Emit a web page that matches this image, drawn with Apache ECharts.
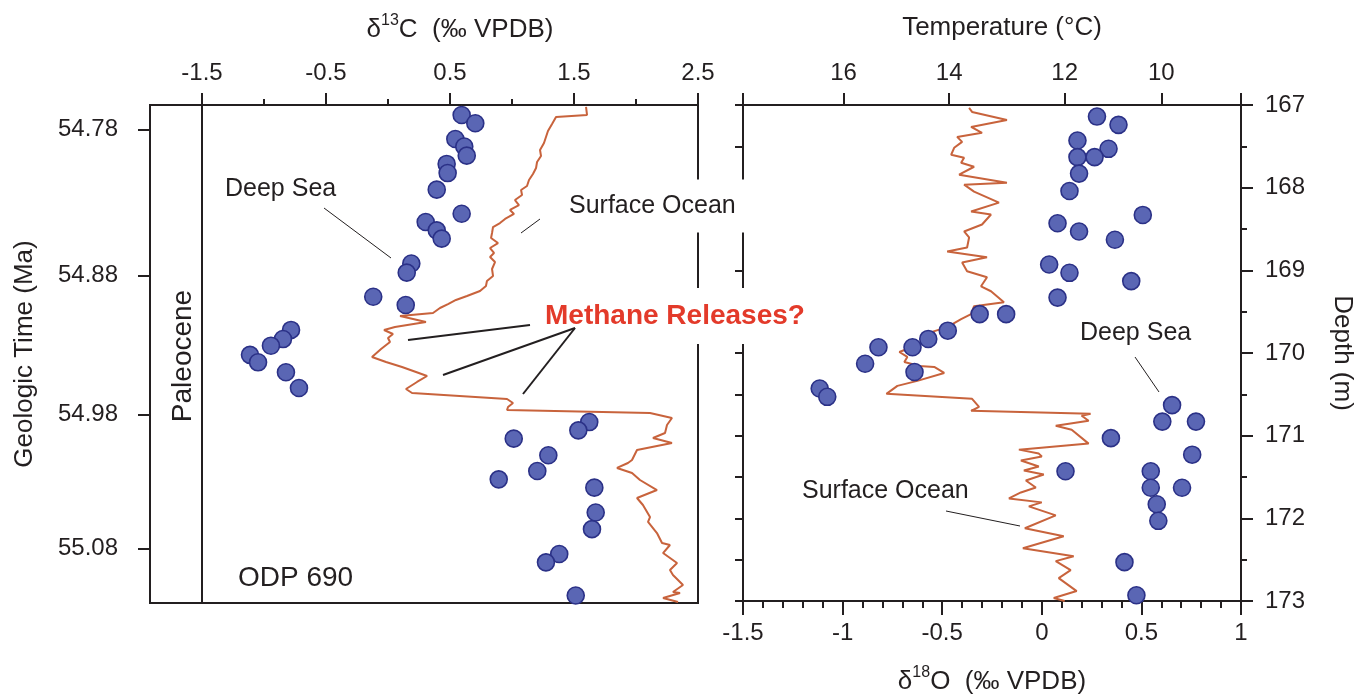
<!DOCTYPE html>
<html><head><meta charset="utf-8">
<script src="https://cdn.jsdelivr.net/npm/echarts@6/dist/echarts.min.js"></script>
<style>html,body{margin:0;padding:0;background:#fff}#c{width:1362px;height:700px}</style>
</head><body><div id="c"></div>
<script>
// ---- tick labels ----
const carbonTicks = [-1.5, -0.5, 0.5, 1.5, 2.5];
const carbonMinorTicks = [-1, 0, 1, 2];
const tempLabels = ['16', '14', '12', '10'];
const tempTickO18 = [-0.995, -0.465, 0.115, 0.6];   // where each temperature falls on the δ18O scale
const tempTickEnds = [-1.5, 1];
const ageLabels = ['54.78', '54.88', '54.98', '55.08'];
const ageTickDepth = [167.296, 169.055, 170.729, 172.347]; // age ticks placed on the depth scale
const depthMin = 167, depthMax = 173;

// ---- series values: [value, depth (m)] ----
const deepC13 = [[0.594,167.12],[0.704,167.22],[0.543,167.41],[0.615,167.50],[0.635,167.61],[0.473,167.71],[0.481,167.82],[0.393,168.02],[0.594,168.31],[0.304,168.41],[0.393,168.51],[0.433,168.61],[0.188,168.91],[0.151,169.02],[-0.119,169.31],[0.143,169.41],[-0.782,169.71],[-0.847,169.82],[-0.944,169.90],[-1.113,170.01],[-1.048,170.10],[-0.823,170.22],[-0.718,170.41],[1.623,170.82],[1.535,170.92],[1.014,171.02],[1.293,171.22],[1.204,171.41],[0.893,171.51],[1.664,171.61],[1.675,171.91],[1.645,172.11],[1.381,172.41],[1.274,172.51],[1.514,172.91]];

const surfC13 = [[1.597,167.024],[1.605,167.120],[1.355,167.145],[1.323,167.229],[1.290,167.313],[1.274,167.386],[1.258,167.458],[1.226,167.542],[1.234,167.614],[1.202,167.687],[1.194,167.759],[1.169,167.831],[1.137,167.904],[1.121,167.976],[1.073,168.024],[1.081,168.084],[1.024,168.145],[1.056,168.205],[0.984,168.265],[1.016,168.313],[0.944,168.373],[0.903,168.422],[0.847,168.470],[0.839,168.542],[0.831,168.602],[0.887,168.663],[0.823,168.723],[0.855,168.783],[0.823,168.831],[0.863,168.892],[0.839,168.976],[0.847,169.060],[0.798,169.120],[0.790,169.181],[0.742,169.241],[0.637,169.301],[0.548,169.349],[0.484,169.398],[0.419,169.446],[0.363,169.506],[0.097,169.542],[0.202,169.578],[0.306,169.614],[0.056,169.675],[-0.032,169.711],[0.040,169.759],[0.000,169.807],[0.016,169.855],[-0.056,169.940],[-0.129,170.036],[-0.016,170.096],[0.113,170.157],[0.226,170.217],[0.315,170.265],[0.234,170.337],[0.145,170.422],[0.194,170.470],[0.960,170.542],[1.008,170.590],[0.968,170.639],[0.960,170.675],[2.113,170.711],[2.290,170.771],[2.250,170.855],[2.234,170.952],[2.137,171.012],[2.290,171.072],[2.008,171.157],[1.968,171.277],[1.935,171.313],[1.847,171.373],[1.968,171.434],[2.032,171.518],[2.169,171.639],[2.008,171.735],[2.056,171.819],[2.113,171.964],[2.097,172.024],[2.169,172.157],[2.210,172.277],[2.274,172.301],[2.218,172.398],[2.331,172.518],[2.274,172.602],[2.298,172.663],[2.379,172.783],[2.298,172.867],[2.355,172.880],[2.218,172.940],[2.339,172.988]];

const deepO18 = [[0.277,167.14],[0.385,167.24],[0.179,167.43],[0.335,167.53],[0.179,167.63],[0.265,167.63],[0.187,167.83],[0.139,168.04],[0.507,168.33],[0.079,168.43],[0.187,168.53],[0.367,168.63],[0.037,168.93],[0.139,169.03],[0.449,169.13],[0.079,169.33],[-0.179,169.53],[-0.312,169.53],[-0.472,169.73],[-0.570,169.83],[-0.649,169.93],[-0.820,169.93],[-0.887,170.13],[-0.639,170.23],[-1.115,170.43],[-1.077,170.53],[0.654,170.63],[0.605,170.83],[0.774,170.83],[0.347,171.03],[0.755,171.23],[0.119,171.43],[0.547,171.43],[0.547,171.63],[0.704,171.63],[0.577,171.83],[0.585,172.03],[0.415,172.53],[0.475,172.93]];

const surfO18 = [[-0.365,167.036],[-0.350,167.084],[-0.175,167.181],[-0.355,167.265],[-0.300,167.337],[-0.425,167.386],[-0.400,167.446],[-0.440,167.518],[-0.455,167.602],[-0.390,167.639],[-0.405,167.699],[-0.340,167.747],[-0.415,167.843],[-0.175,167.940],[-0.390,167.964],[-0.340,168.048],[-0.215,168.181],[-0.355,168.289],[-0.255,168.325],[-0.300,168.446],[-0.390,168.530],[-0.365,168.602],[-0.375,168.723],[-0.475,168.771],[-0.275,168.843],[-0.400,168.904],[-0.375,169.012],[-0.275,169.084],[-0.305,169.193],[-0.255,169.253],[-0.190,169.386],[-0.340,169.434],[-0.355,169.530],[-0.405,169.590],[-0.475,169.687],[-0.555,169.747],[-0.615,169.892],[-0.715,169.988],[-0.675,170.048],[-0.690,170.108],[-0.615,170.157],[-0.540,170.169],[-0.490,170.241],[-0.625,170.337],[-0.725,170.398],[-0.780,170.494],[-0.350,170.554],[-0.315,170.651],[-0.355,170.699],[0.245,170.735],[0.200,170.759],[0.235,170.819],[0.070,170.880],[0.150,170.928],[0.235,171.096],[-0.115,171.169],[-0.015,171.217],[0.000,171.253],[-0.105,171.301],[-0.015,171.373],[-0.090,171.422],[0.010,171.470],[-0.080,171.542],[-0.030,171.627],[-0.105,171.687],[-0.165,171.759],[0.000,171.807],[-0.065,171.855],[0.070,171.964],[-0.085,172.120],[0.110,172.217],[-0.095,172.361],[0.160,172.458],[0.070,172.518],[0.145,172.627],[0.085,172.723],[0.175,172.880],[0.060,172.964],[0.115,173.0]];

// ---- styles ----
const FONT = '"Liberation Sans", Arial, Helvetica, sans-serif';
const INK = '#231f20';
const ORANGE = '#c8633c';
const DOT = '#5a66b4';
const DOT_EDGE = '#2b3187';
const RED = '#e33a2a';
const lineAx = {show: true, onZero: false, lineStyle: {color: INK, width: 2}};
const noLine = {show: false, onZero: false};
const tickStyle = {color: INK, width: 2};
const lab = {color: INK, fontSize: 24, fontFamily: FONT};
const nameRich = {
  a: {fontSize: 26, fontFamily: FONT, color: INK, lineHeight: 30, verticalAlign: 'bottom'},
  s: {fontSize: 16, fontFamily: FONT, color: INK, lineHeight: 18, verticalAlign: 'top'}
};

const chart = echarts.init(document.getElementById('c'), null, {renderer: 'canvas'});
const option = {
  animation: false,
  backgroundColor: '#fff',
  grid: [
    {left: 202, top: 105, width: 496, height: 498, show: true, borderColor: INK, borderWidth: 2},
    {left: 743, top: 105, width: 498, height: 498, show: true, borderColor: INK, borderWidth: 2},
    {left: 150, top: 105, width: 52, height: 498, show: true, borderColor: INK, borderWidth: 2}
  ],
  xAxis: [
    {gridIndex: 0, type: 'value', position: 'top', min: -1.5, max: 2.5,
     axisLine: lineAx, splitLine: {show: false},
     axisTick: {show: true, customValues: carbonTicks, length: 12, lineStyle: tickStyle},
     axisLabel: Object.assign({customValues: carbonTicks, margin: 20}, lab),
     name: '{a|δ}{s|13}{a|C  (‰ VPDB)}', nameLocation: 'middle', nameGap: 62,
     nameTextStyle: {rich: nameRich, padding: [0, 0, 0, 20]}},
    {gridIndex: 0, type: 'value', position: 'top', min: -1.5, max: 2.5,
     axisLine: noLine, splitLine: {show: false}, axisLabel: {show: false},
     axisTick: {show: true, customValues: carbonMinorTicks, length: 6, lineStyle: tickStyle}},
    {gridIndex: 1, type: 'value', position: 'bottom', min: -1.5, max: 1, interval: 0.5,
     axisLine: lineAx, splitLine: {show: false},
     axisTick: {show: true, length: 14, lineStyle: tickStyle},
     minorTick: {show: true, splitNumber: 5, length: 7, lineStyle: tickStyle},
     axisLabel: Object.assign({margin: 20}, lab),
     name: '{a|δ}{s|18}{a|O  (‰ VPDB)}', nameLocation: 'middle', nameGap: 64,
     nameTextStyle: {rich: nameRich}},
    {gridIndex: 1, type: 'value', position: 'top', min: -1.5, max: 1,
     axisLine: lineAx, splitLine: {show: false},
     axisTick: {show: true, customValues: tempTickEnds.concat(tempTickO18), length: 12, lineStyle: tickStyle},
     axisLabel: Object.assign({customValues: tempTickO18, margin: 20,
       formatter: function (v) { for (let i = 0; i < tempTickO18.length; i++) { if (Math.abs(tempTickO18[i] - v) < 1e-6) return tempLabels[i]; } return ''; }}, lab),
     name: 'Temperature (°C)', nameLocation: 'middle', nameGap: 64,
     nameTextStyle: {fontSize: 26, fontFamily: FONT, color: INK, padding: [0, 0, 0, 20]}},
    {gridIndex: 2, type: 'value', show: false, min: 0, max: 1, axisLine: noLine}
  ],
  yAxis: [
    {gridIndex: 0, type: 'value', inverse: true, min: depthMin, max: depthMax,
     axisLine: noLine, axisTick: {show: false}, axisLabel: {show: false}, splitLine: {show: false}},
    {gridIndex: 1, type: 'value', position: 'right', inverse: true, min: depthMin, max: depthMax, interval: 1,
     axisLine: lineAx, splitLine: {show: false},
     axisTick: {show: true, length: 12, lineStyle: tickStyle},
     minorTick: {show: true, splitNumber: 2, length: 6, lineStyle: tickStyle},
     axisLabel: Object.assign({margin: 24}, lab),
     name: 'Depth (m)', nameLocation: 'middle', nameRotate: -90, nameGap: 88,
     nameTextStyle: {fontSize: 26, fontFamily: FONT, color: INK}},
    {gridIndex: 1, type: 'value', position: 'left', inverse: true, min: depthMin, max: depthMax, interval: 0.5,
     axisLine: lineAx, splitLine: {show: false}, axisLabel: {show: false},
     axisTick: {show: true, length: 8, lineStyle: tickStyle}},
    {gridIndex: 2, type: 'value', position: 'left', inverse: true, min: depthMin, max: depthMax,
     axisLine: lineAx, splitLine: {show: false},
     axisTick: {show: true, customValues: ageTickDepth, length: 12, lineStyle: tickStyle},
     axisLabel: Object.assign({customValues: ageTickDepth, margin: 32,
       formatter: function (v) { for (let i = 0; i < ageTickDepth.length; i++) { if (Math.abs(ageTickDepth[i] - v) < 1e-6) return ageLabels[i]; } return ''; }}, lab),
     name: 'Geologic Time (Ma)', nameLocation: 'middle', nameRotate: 90, nameGap: 112,
     nameTextStyle: {fontSize: 26, fontFamily: FONT, color: INK}}
  ],
  series: [
    {type: 'line', name: 'Surface Ocean δ13C', xAxisIndex: 0, yAxisIndex: 0, data: surfC13,
     showSymbol: false, symbol: 'none', lineStyle: {color: ORANGE, width: 2}, z: 2},
    {type: 'scatter', name: 'Deep Sea δ13C', xAxisIndex: 0, yAxisIndex: 0, data: deepC13,
     symbolSize: 17, itemStyle: {color: DOT, borderColor: DOT_EDGE, borderWidth: 1.6, opacity: 1}, z: 3},
    {type: 'line', name: 'Surface Ocean δ18O', xAxisIndex: 2, yAxisIndex: 1, data: surfO18,
     showSymbol: false, symbol: 'none', lineStyle: {color: ORANGE, width: 2}, z: 2},
    {type: 'scatter', name: 'Deep Sea δ18O', xAxisIndex: 2, yAxisIndex: 1, data: deepO18,
     symbolSize: 17, itemStyle: {color: DOT, borderColor: DOT_EDGE, borderWidth: 1.6, opacity: 1}, z: 3}
  ],
  graphic: [
    {type: 'text', x: 183, y: 356, rotation: Math.PI / 2, z: 100,
     style: {text: 'Paleocene', font: '28px ' + FONT, fill: INK, align: 'center', verticalAlign: 'middle', textAlign: 'center', textVerticalAlign: 'middle'}},
    {type: 'text', x: 225, y: 189, z: 100,
     style: {text: 'Deep Sea', font: '25px ' + FONT, fill: INK, align: 'left', verticalAlign: 'middle', textAlign: 'left', textVerticalAlign: 'middle'}},
    {type: 'line', z: 101, shape: {x1: 324, y1: 208, x2: 391, y2: 258}, style: {stroke: INK, lineWidth: 1}},
    {type: 'text', x: 563, y: 206, z: 100,
     style: {text: 'Surface Ocean', font: '25px ' + FONT, fill: INK, align: 'left', verticalAlign: 'middle', textAlign: 'left', textVerticalAlign: 'middle', backgroundColor: '#fff', padding: [14, 12, 14, 6]}},
    {type: 'line', z: 101, shape: {x1: 521, y1: 233, x2: 540, y2: 219}, style: {stroke: INK, lineWidth: 1}},
    {type: 'text', x: 537, y: 316, z: 100,
     style: {text: 'Methane Releases?', font: 'bold 28px ' + FONT, fill: RED, align: 'left', verticalAlign: 'middle', textAlign: 'left', textVerticalAlign: 'middle', backgroundColor: '#fff', padding: [14, 8, 14, 8]}},
    {type: 'line', z: 101, shape: {x1: 530, y1: 325, x2: 408, y2: 340}, style: {stroke: INK, lineWidth: 2}},
    {type: 'line', z: 101, shape: {x1: 575, y1: 328, x2: 443, y2: 375}, style: {stroke: INK, lineWidth: 2}},
    {type: 'line', z: 101, shape: {x1: 575, y1: 328, x2: 523, y2: 394}, style: {stroke: INK, lineWidth: 2}},
    {type: 'text', x: 1080, y: 333, z: 100,
     style: {text: 'Deep Sea', font: '25px ' + FONT, fill: INK, align: 'left', verticalAlign: 'middle', textAlign: 'left', textVerticalAlign: 'middle'}},
    {type: 'line', z: 101, shape: {x1: 1135, y1: 357, x2: 1159, y2: 392}, style: {stroke: INK, lineWidth: 1}},
    {type: 'text', x: 802, y: 491, z: 100,
     style: {text: 'Surface Ocean', font: '25px ' + FONT, fill: INK, align: 'left', verticalAlign: 'middle', textAlign: 'left', textVerticalAlign: 'middle'}},
    {type: 'line', z: 101, shape: {x1: 946, y1: 511, x2: 1020, y2: 526}, style: {stroke: INK, lineWidth: 1}},
    {type: 'text', x: 238, y: 578, z: 100,
     style: {text: 'ODP 690', font: '28px ' + FONT, fill: INK, align: 'left', verticalAlign: 'middle', textAlign: 'left', textVerticalAlign: 'middle'}}
  ]
};
chart.setOption(option);
</script>
</body></html>
